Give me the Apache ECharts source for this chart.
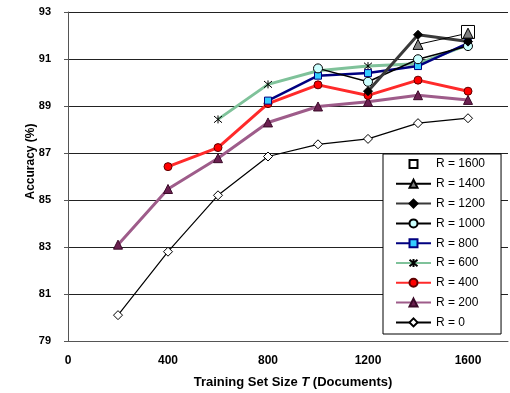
<!DOCTYPE html>
<html>
<head>
<meta charset="utf-8">
<script src="https://cdn.jsdelivr.net/npm/echarts@6/dist/echarts.min.js"></script>
<style>
  html, body { margin: 0; padding: 0; background: #fff; }
  #chart { width: 510px; height: 393px; }
</style>
</head>
<body>
<div id="chart"></div>
<script>
// Training set sizes (documents)
const sizes = [200, 400, 600, 800, 1000, 1200, 1400, 1600];

// Accuracy (%) per training size, one array per R setting (null = not run)
const accR0    = [80.1, 82.8, 85.2, 86.85, 87.37, 87.6, 88.27, 88.48];
const accR200  = [83.1, 85.47, 86.78, 88.3, 88.98, 89.18, 89.46, 89.26];
const accR400  = [null, 86.42, 87.23, 89.1, 89.9, 89.45, 90.1, 89.63];
const accR600  = [null, null, 88.43, 89.92, 90.5, 90.7, 90.8, 91.6];
const accR800  = [null, null, null, 89.23, 90.29, 90.4, 90.7, 91.68];
const accR1000 = [null, null, null, null, 90.6, 90.03, 90.99, 91.55];
const accR1200 = [null, null, null, null, null, 89.63, 92.03, 91.74];
const accR1400 = [null, null, null, null, null, null, 91.62, 92.1];
const accR1600 = [null, null, null, null, null, null, null, 92.15];

const legendOrder = ['R = 1600', 'R = 1400', 'R = 1200', 'R = 1000', 'R = 800',
                     'R = 600', 'R = 400', 'R = 200', 'R = 0'];

function pairs(values) {
  const out = [];
  values.forEach((v, i) => { if (v !== null) out.push([sizes[i], v]); });
  return out;
}

const asterisk = 'path://M0,0 L10,10 M10,0 L0,10 M5,-1 L5,11';

function makeSeries(name, values, line, marker) {
  return {
    name: name,
    type: 'line',
    data: pairs(values),
    symbol: marker.symbol,
    symbolSize: marker.size,
    showAllSymbol: true,
    lineStyle: line,
    itemStyle: {
      color: marker.fill,
      borderColor: marker.stroke,
      borderWidth: marker.strokeWidth || 1
    },
    emphasis: { disabled: true },
    animation: false
  };
}

const series = [
  makeSeries('R = 0', accR0,
    { color: '#000', width: 1.2 },
    { symbol: 'diamond', size: 9, fill: '#fff', stroke: '#000' }),
  makeSeries('R = 200', accR200,
    { color: '#9e5c8a', width: 3 },
    { symbol: 'triangle', size: 9, fill: '#6b2050', stroke: '#3a0a28' }),
  makeSeries('R = 400', accR400,
    { color: '#ff2a2a', width: 3 },
    { symbol: 'circle', size: 8, fill: '#ff0000', stroke: '#600000' }),
  makeSeries('R = 600', accR600,
    { color: '#7fc29a', width: 3 },
    { symbol: asterisk, size: 8, fill: 'none', stroke: '#000', strokeWidth: 1 }),
  makeSeries('R = 800', accR800,
    { color: '#000080', width: 2.5 },
    { symbol: 'rect', size: 7, fill: '#33ccff', stroke: '#000080' }),
  makeSeries('R = 1000', accR1000,
    { color: '#000', width: 1.5 },
    { symbol: 'circle', size: 9, fill: '#ccffff', stroke: '#000' }),
  makeSeries('R = 1200', accR1200,
    { color: '#3a3a3a', width: 3 },
    { symbol: 'diamond', size: 9, fill: '#000', stroke: '#000' }),
  makeSeries('R = 1600', accR1600,
    { opacity: 0, width: 0 },
    { symbol: 'rect', size: 13, fill: '#fff', stroke: '#000' }),
  makeSeries('R = 1400', accR1400,
    { color: '#000', width: 1 },
    { symbol: 'triangle', size: 10, fill: '#808080', stroke: '#000' })
];

const FONT = 'Liberation Sans, Arial, sans-serif';

const chart = echarts.init(document.getElementById('chart'), null, { renderer: 'canvas' });
chart.setOption({
  backgroundColor: '#fff',
  animation: false,
  grid: { left: 68, right: 2, top: 12, bottom: 52, containLabel: false, outerBoundsMode: 'none' },
  xAxis: {
    type: 'value',
    min: 0,
    max: 1760,
    interval: 400,
    axisLine: { show: true, lineStyle: { color: '#555', width: 1 } },
    axisTick: { show: false },
    splitLine: { show: false },
    axisLabel: {
      margin: 14, showMaxLabel: false,
      formatter: v => (v <= 1600 ? String(v) : ''),
      fontFamily: FONT, fontWeight: 'bold', fontSize: 12, color: '#000'
    },
    name: '{a|Training Set Size }{b|T}{a| (Documents)}',
    nameLocation: 'middle',
    nameGap: 35,
    nameMoveOverlap: false,
    nameTextStyle: {
      padding: [0, 0, 0, 10],
      rich: {
        a: { fontFamily: FONT, fontWeight: 'bold', fontSize: 13, color: '#000' },
        b: { fontFamily: FONT, fontWeight: 'bold', fontStyle: 'italic', fontSize: 13, color: '#000' }
      }
    }
  },
  yAxis: {
    type: 'value',
    min: 79,
    max: 93,
    interval: 2,
    axisLine: { show: true, lineStyle: { color: '#555', width: 1 } },
    axisTick: { show: true, inside: false, length: 4, lineStyle: { color: '#555' } },
    splitLine: { show: true, lineStyle: { color: '#222', width: 1 } },
    axisLabel: { margin: 17, fontFamily: FONT, fontWeight: 'bold', fontSize: 11, color: '#000' },
    name: 'Accuracy (%)',
    nameLocation: 'middle',
    nameGap: 31,
    nameMoveOverlap: false,
    nameTextStyle: { padding: [0, 0, 0, 30], fontFamily: FONT, fontWeight: 'bold', fontSize: 12, color: '#000' }
  },
  legend: {
    data: legendOrder,
    orient: 'vertical',
    left: 383,
    top: 154,
    padding: [3, 16, 4.6, 12],
    itemGap: 5.8,
    itemWidth: 35,
    itemHeight: 10,
    backgroundColor: '#fff',
    borderColor: '#000',
    borderWidth: 1,
    borderRadius: 0,
    selectedMode: false,
    textStyle: { fontFamily: FONT, fontSize: 12, lineHeight: 14, color: '#000' }
  },
  series: series
});
</script>
</body>
</html>
